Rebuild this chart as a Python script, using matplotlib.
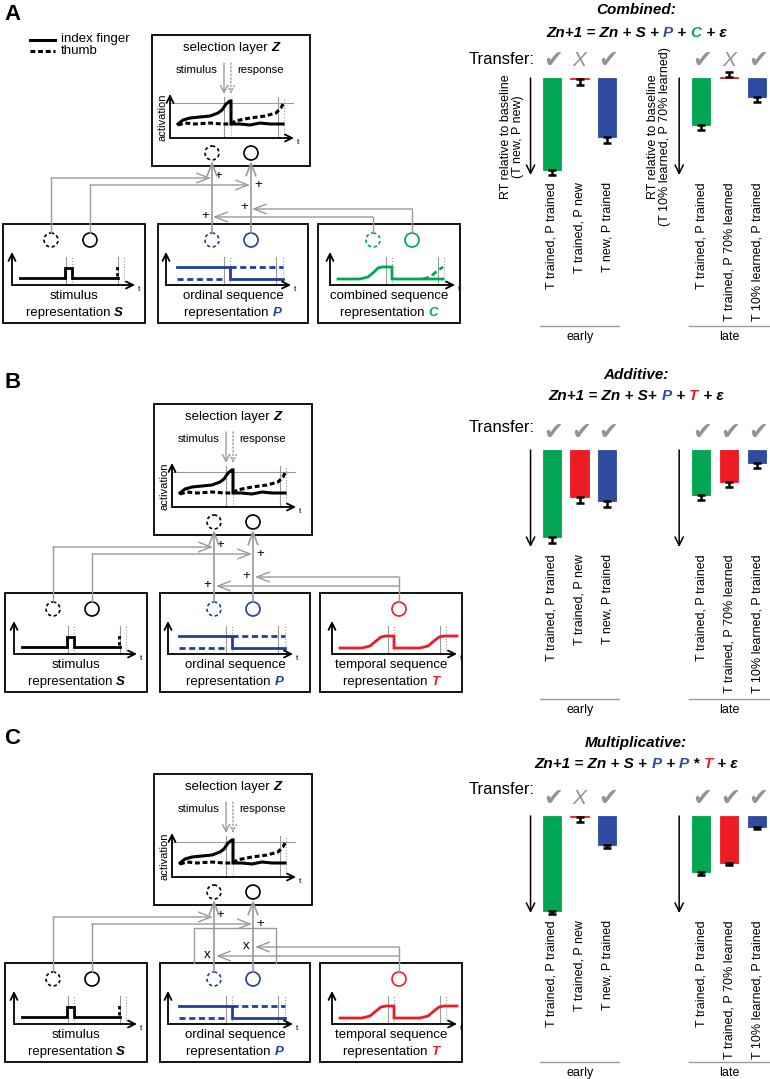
import numpy as np
import matplotlib.pyplot as plt
from matplotlib.patches import Rectangle, Circle
from matplotlib.offsetbox import TextArea, HPacker, AnnotationBbox
from matplotlib.transforms import blended_transform_factory

plt.rcParams['font.family'] = ['Liberation Sans', 'DejaVu Sans']

# ---- data (bar lengths = RT decrease relative to baseline, arbitrary units) ----
labels_early = ['T trained, P trained', 'T trained, P new', 'T new, P trained']
labels_late = ['T trained, P trained', 'T trained, P 70% learned', 'T 10% learned, P trained']

combined_early = [92, 1.2, 59]
combined_early_err = [5, 6, 6]
combined_late = [47, -1, 19]
combined_late_err = [5, 5, 5]

additive_early = [87, 47, 51]
additive_early_err = [6, 6, 6]
additive_late = [45, 32, 13]
additive_late_err = [5, 5, 5]

multiplicative_early = [95, 1.2, 29]
multiplicative_early_err = [3, 5, 3]
multiplicative_late = [56, 47, 11]
multiplicative_late_err = [3, 2, 2]

# transfer predicted? (True = check, False = cross)
transfer_combined = [True, False, True, True, False, True]
transfer_additive = [True, True, True, True, True, True]
transfer_multiplicative = [True, False, True, True, True, True]

GREEN = '#00a651'
RED = '#ed1c24'
BLUE = '#2e4b9f'
DBLUE = '#1f3f9e'
GRAY = '#9a9a9a'
bar_colors = [GREEN, RED, BLUE]

# schematic traces of the model drawings (pixels relative to inner axis origin, y up)
z_index = [(8, 14), (13, 18), (20, 20), (30, 21), (40, 22), (48, 25), (52, 28), (56, 34),
           (60, 37), (61, 37), (61, 14), (70, 14), (80, 13), (90, 15), (100, 14), (113, 14)]
z_thumb = [(8, 13), (15, 15), (25, 14), (40, 15), (52, 14), (61, 14), (65, 17), (80, 20),
           (95, 22), (106, 25), (111, 30), (113, 34)]
s_index = [(8, 7), (53, 7), (53, 17), (60, 17), (60, 7), (106, 7)]
s_thumb = [(105, 9), (105, 19)]
p_index = [(11, 18), (64, 18), (64, 6), (117, 6)]
p_thumb = [[(11, 6), (59, 6)], [(64, 18), (117, 18)]]
c_index = [(8, 6), (30, 6), (38, 8), (44, 13), (48, 17), (52, 18), (62, 18), (62, 6), (113, 6)]
c_thumb = [(93, 6), (100, 8), (106, 13), (110, 16), (113, 18)]
t_index = [(8, 6), (30, 6), (38, 8), (44, 13), (49, 17), (54, 18), (62, 18), (62, 6), (88, 6),
           (96, 8), (102, 13), (107, 17), (112, 18), (125, 18)]

W, H = 770, 1079
fig = plt.figure(figsize=(W / 100, H / 100), dpi=100)
ax0 = fig.add_axes([0, 0, 1, 1])
ax0.set_xlim(0, W)
ax0.set_ylim(H, 0)
ax0.axis('off')


def arrow(x0, y0, x1, y1, color='k', lw=1.0, ls='-', hl=0.5, hw=0.25):
    ax0.annotate('', xy=(x1, y1), xytext=(x0, y0),
                 arrowprops=dict(arrowstyle='->,head_length=%g,head_width=%g' % (hl, hw),
                                 color=color, lw=lw, linestyle=ls, shrinkA=0, shrinkB=0))


def rich(x, y, parts, size, ha=0.5, sep=0):
    boxes = [TextArea(s, textprops=dict(size=size, **kw)) for s, kw in parts]
    pack = HPacker(children=boxes, align='baseline', pad=0, sep=sep)
    ab = AnnotationBbox(pack, (x, y), xycoords='data', frameon=False,
                        box_alignment=(ha, 0.5), pad=0)
    ax0.add_artist(ab)


def trace(pts, ox, oy, color, ls='-', lw=1.9):
    xs = [ox + p[0] for p in pts]
    ys = [oy - p[1] for p in pts]
    ax0.plot(xs, ys, color=color, ls=ls, lw=lw, solid_joinstyle='miter')


def mini_axes(ox, oy, xlen, ylen, solid_x, dotted_x, vtop):
    arrow(ox, oy, ox, oy - ylen, lw=1.3)
    arrow(ox, oy, ox + xlen, oy, lw=1.3)
    ax0.text(ox + xlen + 3, oy + 6, 't', fontsize=6)
    for vx in solid_x:
        ax0.plot([ox + vx, ox + vx], [oy, oy - vtop], color=GRAY, lw=0.8)
    for vx in dotted_x:
        ax0.plot([ox + vx, ox + vx], [oy, oy - vtop], color=GRAY, lw=0.8, ls=':')


def circ(x, y, color, dashed):
    ax0.add_patch(Circle((x, y), 7, fill=False, ec=color, lw=1.2,
                         ls=(0, (2, 1.6)) if dashed else '-'))


def draw_model(dy, dx, third, mult):
    b = 'bold'
    it = 'italic'
    # selection layer
    ax0.add_patch(Rectangle((152 + dx, 35 + dy), 158, 131, fill=False, lw=1.3))
    rich(231 + dx, 48 + dy, [('selection layer ', {}), ('Z', dict(weight=b, style=it))], 9.5)
    ax0.text(197 + dx, 70 + dy, 'stimulus', fontsize=8.2, ha='center', va='center')
    ax0.text(261 + dx, 70 + dy, 'response', fontsize=8.2, ha='center', va='center')
    arrow(224 + dx, 63 + dy, 224 + dx, 94 + dy, color=GRAY, lw=1.0)
    arrow(231 + dx, 63 + dy, 231 + dx, 94 + dy, color=GRAY, lw=1.0, ls=':')
    ox, oy = 170 + dx, 138 + dy
    mini_axes(ox, oy, 124, 44, [54, 108], [61, 114], 41)
    ax0.plot([ox, ox + 123], [oy - 35, oy - 35], color=GRAY, lw=0.8)
    ax0.text(ox - 8, oy - 21, 'activation', fontsize=8, rotation=90, ha='center', va='center')
    trace(z_index, ox, oy, 'k', lw=2.2)
    trace(z_thumb, ox, oy, 'k', ls=(0, (1.6, 0.9)), lw=2.2)
    circ(212 + dx, 153 + dy, 'k', True)
    circ(251 + dx, 153 + dy, 'k', False)

    # lower layers
    names = [('stimulus', 'S', 'k'), ('ordinal sequence', 'P', DBLUE)]
    if third == 'C':
        names.append(('combined sequence', 'C', GREEN))
    else:
        names.append(('temporal sequence', 'T', RED))
    lefts = [3, 158, 318]
    widths = [142, 150, 142]
    for (n, sym, col), l, w in zip(names, lefts, widths):
        ax0.add_patch(Rectangle((l + dx, 224 + dy), w, 99, fill=False, lw=1.3))
        ax0.text(l + dx + w / 2, 296 + dy, n, fontsize=9.5, ha='center', va='center')
        rich(l + dx + w / 2, 313 + dy, [('representation ', {}),
                                        (sym, dict(weight=b, style=it, color=col))], 9.5)
    # stimulus
    ox, oy = 12 + dx, 285 + dy
    mini_axes(ox, oy, 123, 33, [54, 106], [60, 112], 28)
    trace(s_index, ox, oy, 'k', lw=2.0)
    trace(s_thumb, ox, oy, 'k', ls=(0, (1.2, 1)), lw=2.0)
    circ(51 + dx, 240 + dy, 'k', True)
    circ(90 + dx, 240 + dy, 'k', False)
    # ordinal
    ox, oy = 166 + dx, 285 + dy
    mini_axes(ox, oy, 125, 33, [58, 110], [64, 117], 28)
    trace(p_index, ox, oy, DBLUE, lw=2.0)
    for seg in p_thumb:
        trace(seg, ox, oy, DBLUE, ls=(0, (2.2, 1.3)), lw=2.0)
    circ(212 + dx, 240 + dy, DBLUE, True)
    circ(251 + dx, 240 + dy, DBLUE, False)
    # third
    ox, oy = 330 + dx, 285 + dy
    mini_axes(ox, oy, 125, 33, [56, 108], [62, 114], 28)
    if third == 'C':
        trace(c_index, ox, oy, GREEN, lw=2.0)
        trace(c_thumb, ox, oy, GREEN, ls=(0, (2.2, 1.3)), lw=2.0)
        circ(373 + dx, 240 + dy, GREEN, True)
        circ(412 + dx, 240 + dy, GREEN, False)
    else:
        trace(t_index, ox, oy, RED, lw=2.0)
        circ(397 + dx, 240 + dy, RED, False)

    # connections
    c = GRAY
    ax0.plot([51 + dx, 51 + dx], [233 + dy, 178 + dy], color=c, lw=1.0)
    arrow(51 + dx, 178 + dy, 211 + dx, 178 + dy, color=c, hl=0.9, hw=0.35)
    ax0.plot([90 + dx, 90 + dx], [233 + dy, 185 + dy], color=c, lw=1.0)
    arrow(90 + dx, 185 + dy, 250 + dx, 185 + dy, color=c, hl=0.9, hw=0.35)
    ax0.text(218 + dx, 176 + dy, '+', fontsize=9.5, ha='center', va='center')
    ax0.text(258 + dx, 185 + dy, '+', fontsize=9.5, ha='center', va='center')
    arrow(212 + dx, 233 + dy, 212 + dx, 161 + dy, color=c, lw=1.2, hl=0.9, hw=0.35)
    arrow(251 + dx, 233 + dy, 251 + dx, 161 + dy, color=c, lw=1.2, hl=0.9, hw=0.35)
    if third == 'C':
        ax0.plot([412 + dx, 412 + dx], [233 + dy, 209 + dy], color=c, lw=1.0)
        ax0.plot([373 + dx, 373 + dx], [233 + dy, 217 + dy], color=c, lw=1.0)
        arrow(412 + dx, 209 + dy, 252 + dx, 209 + dy, color=c, hl=0.9, hw=0.35)
        arrow(373 + dx, 217 + dy, 213 + dx, 217 + dy, color=c, hl=0.9, hw=0.35)
    else:
        ax0.plot([397 + dx, 397 + dx], [233 + dy, 208 + dy], color=c, lw=1.0)
        arrow(397 + dx, 208 + dy, 253 + dx, 208 + dy, color=c, hl=0.9, hw=0.35)
        arrow(397 + dx, 217 + dy, 214 + dx, 217 + dy, color=c, hl=0.9, hw=0.35)
    sym = 'x' if mult else '+'
    ax0.text(244 + dx, 207 + dy, sym, fontsize=9.5, ha='center', va='center')
    ax0.text(205 + dx, 216 + dy, sym, fontsize=9.5, ha='center', va='center')
    if mult:
        ax0.plot([192 + dx, 192 + dx, 274 + dx, 274 + dx],
                 [224 + dy, 189 + dy, 189 + dy, 224 + dy], color=c, lw=1.0)


def bar_group(top, center0, center2, values, errs, labels, marks, underline, text):
    unit = (center2 - center0) / 2.0
    left = center0 - 0.9 * unit
    right = center2 + 0.45 * unit
    ax = fig.add_axes([left / W, 1 - (top + 100) / H, (right - left) / W, 108 / H])
    ax.set_xlim(-0.9, 2.45)
    ax.set_ylim(100, -8)
    x = np.arange(3)
    lower = [e if v < 0 else 0 for v, e in zip(values, errs)]
    upper = [0 if v < 0 else e for v, e in zip(values, errs)]
    ax.bar(x, values, width=0.66, color=bar_colors, edgecolor=bar_colors, lw=0.6,
           yerr=[lower, upper], error_kw=dict(ecolor='k', elinewidth=1.8, capsize=3, capthick=1.8))
    ax.annotate('', xy=(-0.78, 97), xytext=(-0.78, 0), annotation_clip=False,
                arrowprops=dict(arrowstyle='->,head_length=0.6,head_width=0.3', lw=1.1,
                                color='k', shrinkA=0, shrinkB=0))
    for s in ax.spines.values():
        s.set_visible(False)
    ax.set_yticks([])
    ax.set_xticks(x)
    ax.set_xticklabels(labels, rotation=90, fontsize=9, va='top')
    ax.tick_params(axis='x', length=0, pad=3)
    ax.patch.set_visible(False)
    tr = blended_transform_factory(ax.transData, ax0.transData)
    for xi, ok in zip(x, marks):
        if ok:
            ax.text(xi + 0.05, top - 18, '\u2714', transform=tr, fontsize=17, color='#939393',
                    ha='center', va='center', family='DejaVu Sans')
        else:
            ax.text(xi, top - 18, 'X', transform=tr, fontsize=15, color='#939393',
                    ha='center', va='center', style='italic')
    ax0.plot([left + 13, right], [underline, underline], color=GRAY, lw=1.0)
    ax0.text((left + 13 + right) / 2, underline + 11, text, fontsize=9, ha='center', va='center')
    return ax


panels = [
    dict(dy=0, dx=0, third='C', mult=False, letter='A', ly=14, top=78, title='Combined:',
         ty=10, ey=33, try_=60, line=326,
         early=(combined_early, combined_early_err), late=(combined_late, combined_late_err),
         marks=transfer_combined),
    dict(dy=369, dx=2, third='T', mult=False, letter='B', ly=382, top=450, title='Additive:',
         ty=375, ey=396, try_=428, line=699,
         early=(additive_early, additive_early_err), late=(additive_late, additive_late_err),
         marks=transfer_additive),
    dict(dy=739, dx=2, third='T', mult=True, letter='C', ly=739, top=816, title='Multiplicative:',
         ty=743, ey=764, try_=790, line=1062,
         early=(multiplicative_early, multiplicative_early_err),
         late=(multiplicative_late, multiplicative_late_err),
         marks=transfer_multiplicative),
]

bi = dict(weight='bold', style='italic')
for p in panels:
    draw_model(p['dy'], p['dx'], p['third'], p['mult'])
    ax0.text(4, p['ly'], p['letter'], fontsize=16, weight='bold', va='center')
    ax0.text(636, p['ty'], p['title'], fontsize=11, ha='center', va='center', **bi)
    if p['mult']:
        eq = [('Zn+1 = Zn + S + ', bi), ('P', dict(color=BLUE, **bi)), (' + ', bi),
              ('P', dict(color=BLUE, **bi)), (' * ', bi), ('T', dict(color=RED, **bi)),
              (' + \u03b5', bi)]
    elif p['third'] == 'C':
        eq = [('Zn+1 = Zn + S + ', bi), ('P', dict(color=BLUE, **bi)), (' + ', bi),
              ('C', dict(color=GREEN, **bi)), (' + \u03b5', bi)]
    else:
        eq = [('Zn+1 = Zn + S+ ', bi), ('P', dict(color=BLUE, **bi)), (' + ', bi),
              ('T', dict(color=RED, **bi)), (' + \u03b5', bi)]
    rich(636, p['ey'], eq, 11)
    ax0.text(535, p['try_'], 'Transfer:', fontsize=12, ha='right', va='center')
    bar_group(p['top'], 552, 607, p['early'][0], p['early'][1], labels_early,
              p['marks'][:3], p['line'], 'early')
    bar_group(p['top'], 701, 757, p['late'][0], p['late'][1], labels_late,
              p['marks'][3:], p['line'], 'late')

# y labels (panel A only)
ax0.text(512, 137, 'RT relative to baseline\n(T new, P new)', rotation=90, fontsize=9,
         ha='center', va='center', linespacing=1.1)
ax0.text(659, 137, 'RT relative to baseline\n(T 10% learned, P 70% learned)', rotation=90,
         fontsize=9, ha='center', va='center', linespacing=1.1)

# legend of the schematic
ax0.plot([30, 55], [40, 40], color='k', lw=2.2)
ax0.plot([30, 55], [51, 51], color='k', lw=2.2, ls=(0, (1.6, 0.9)))
ax0.text(61, 39, 'index finger', fontsize=9.5, va='center')
ax0.text(61, 51, 'thumb', fontsize=9.5, va='center')

fig.savefig('out.png', dpi=100)
